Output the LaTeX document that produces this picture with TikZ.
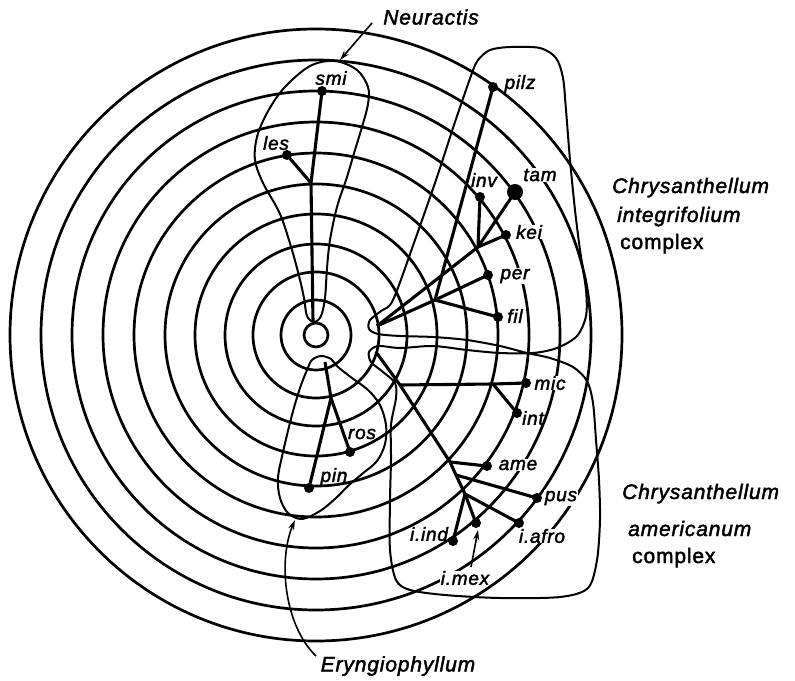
\documentclass[tikz,border=0pt]{standalone}
\usepackage{fontspec}
\setmainfont{Liberation Sans}[LetterSpace=4,FakeBold=2]
\usetikzlibrary{arrows.meta}
\begin{document}
\begin{tikzpicture}[x=1pt,y=-1pt,
 ring/.style={line width=2.7pt},
 loopline/.style={line width=2pt},
 branch/.style={line width=3.1pt},
 dot/.style={circle,fill=black,inner sep=0pt,minimum size=10pt},
 bigdot/.style={circle,fill=black,inner sep=0pt,minimum size=16pt},
 lab/.style={font=\fontsize{19}{19}\selectfont\itshape,inner sep=0.5pt},
 grp/.style={font=\fontsize{21}{21}\selectfont\itshape,inner sep=0.5pt},
 gap/.style={fill=white},
 big/.style={font=\fontsize{21}{21}\selectfont\itshape,anchor=base west,inner sep=0pt},
 cplx/.style={font=\fontsize{21}{21}\selectfont,anchor=base west,inner sep=0pt},
 pointer/.style={line width=1.6pt,-{Stealth[length=10pt,width=6pt]}},
]
\useasboundingbox (0,0) rectangle (795,680);
\coordinate (C) at (316,335);
% concentric rings
\foreach \r in {12,35,63,91,121,151,182,213,244,275,306}
  \draw[ring] (C) circle[radius=\r pt];

% enclosing loops
\draw[loopline] plot[smooth cycle,tension=0.55] coordinates {
 (335,61) (357,70) (368,87) (368,104) (362,127) (355,150) (347,177) (337,207)
 (330,240) (327,268) (325,298) (321,316) (314,322) (307,316) (304,298) (300,280)
 (292,250) (280,214) (263,183) (255,160) (257,137) (267,113) (284,88) (310,66)};
\draw[loopline] plot[smooth cycle,tension=0.55] coordinates {
 (307,370) (312,360) (321,356) (331,359) (338,367) (352,378) (368,390) (380,405)
 (386,425) (385,444) (377,461) (362,474) (349,485) (336,498) (320,511) (302,519)
 (288,513) (280,498) (278,478) (283,452) (292,415) (300,388)};
\draw[loopline] plot[smooth cycle,tension=0.5] coordinates {
 (393,300) (381,311) (370,320) (369,329) (378,334) (400,336) (433,337) (467,340)
 (500,346) (527,353) (550,358) (573,367) (587,381) (593,403) (596,440) (599,480)
 (600,520) (597,560) (588,588) (560,597) (500,598) (445,595) (410,590) (396,580)
 (390,550) (390,500) (391,460) (391,425) (396,398) (395,383) (383,372) (371,362)
 (369,352) (378,346) (400,348) (433,346) (467,350) (500,353) (533,353) (557,348)
 (577,336) (586,316) (586,290) (580,250) (575,210) (570,160) (566,110) (563,78)
 (556,58) (540,48) (510,47) (490,50) (478,60) (472,73) (455,122) (437,177) (415,240)};

% nodes (taxa)
\node[dot] (smi) at (322,91) {};
\node[dot] (les) at (287,155) {};
\node[dot] (pilz) at (493,87) {};
\node[bigdot] (tam) at (515,192) {};
\node[dot] (inv) at (480,197) {};
\node[dot] (kei) at (506,235) {};
\node[dot] (per) at (488,275) {};
\node[dot] (fil) at (498,317) {};
\node[dot] (mic) at (526,383) {};
\node[dot] (int) at (517,413) {};
\node[dot] (ame) at (487,466) {};
\node[dot] (pus) at (537,498) {};
\node[dot] (iafro) at (519,523) {};
\node[dot] (imex) at (476,523) {};
\node[dot] (iind) at (453,541) {};
\node[dot] (ros) at (350,452) {};
\node[dot] (pin) at (309,488) {};

% branching points
\coordinate (jN) at (311,183);
\coordinate (rN) at (313,322);
\coordinate (R1) at (377,326);
\coordinate (J1) at (478,247);
\coordinate (J2) at (435,300);
\coordinate (R2) at (376,352);
\coordinate (J5) at (400,385);
\coordinate (Jint) at (493,384);
\coordinate (J3) at (450,462);
\coordinate (J3b) at (456,475);
\coordinate (J4) at (465,494);
\coordinate (capE) at (325,362);
\coordinate (JE) at (331,398);

% branches
\draw[branch] (smi.center) -- (jN) -- (rN);
\draw[branch] (les.center) -- (jN);
\draw[branch] (R1) -- (J1);
\draw[branch] (J1) -- (inv.center);
\draw[branch] (J1) -- (tam.center);
\draw[branch] (J1) -- (kei.center);
\draw[branch] (R1) -- (J2) -- (per.center);
\draw[branch] (J2) -- (fil.center);
\draw[branch] (J2) -- (pilz.center);
\draw[branch] (R2) -- (J5) -- (J3) -- (J3b) -- (J4);
\draw[branch] (J5) -- (Jint) -- (mic.center);
\draw[branch] (Jint) -- (int.center);
\draw[branch] (J3) -- (ame.center);
\draw[branch] (J3b) -- (pus.center);
\draw[branch] (J4) -- (iind.center);
\draw[branch] (J4) -- (imex.center);
\draw[branch] (J4) -- (iafro.center);
\draw[branch] (capE) -- (JE) -- (pin.center);
\draw[branch] (JE) -- (ros.center);

% taxon labels
\node[lab] (smiL) at (331,78) {smi};
\node[lab] (lesL) at (276,143) {les};
\node[lab] (pilzL) at (520,84) {pilz};
\node[lab,gap] (tamL) at (540,175) {tam};
\node[lab] (invL) at (484,180) {inv};
\node[lab,gap] (keiL) at (529,232) {kei};
\node[lab,gap] (perL) at (515,276) {per};
\node[lab] (filL) at (515,316) {fil};
\node[lab,gap] (micL) at (550,383) {mic};
\node[lab] (intL) at (533,418) {int};
\node[lab,gap] (ameL) at (518,465) {ame};
\node[lab,gap] (pusL) at (561,498) {pus};
\node[lab,gap] (iafroL) at (542,536) {i.afro};
\node[lab] (iindL) at (429,534) {i.ind};
\node[lab,gap] (imexL) at (465,578) {i.mex};
\node[lab] (rosL) at (362,434) {ros};
\node[lab] (pinL) at (334,477) {pin};

% group labels
\node[grp] (neuL) at (431,17) {Neuractis};
\node[grp] (eryL) at (398,666) {Eryngiophyllum};
\node[big] (ch1) at (612,193) {Chrysanthellum};
\node[big] (in1) at (617,222) {integrifolium};
\node[cplx] (co1) at (620,249) {complex};
\node[big] (ch2) at (622,499) {Chrysanthellum};
\node[big] (am2) at (628,536) {americanum};
\node[cplx] (co2) at (632,563) {complex};

% pointers
\coordinate (nS) at (372,23);
\coordinate (nT) at (340,60);
\draw[pointer] (nS) -- (nT);
\coordinate (eS) at (316,656);
\coordinate (eT) at (295,520);
\draw[pointer] (eS) .. controls (284,625) and (278,560) .. (eT);
\coordinate (mS) at (471,567);
\coordinate (mT) at (478,530);
\draw[pointer] (mS) -- (mT);
\end{tikzpicture}
\end{document}
